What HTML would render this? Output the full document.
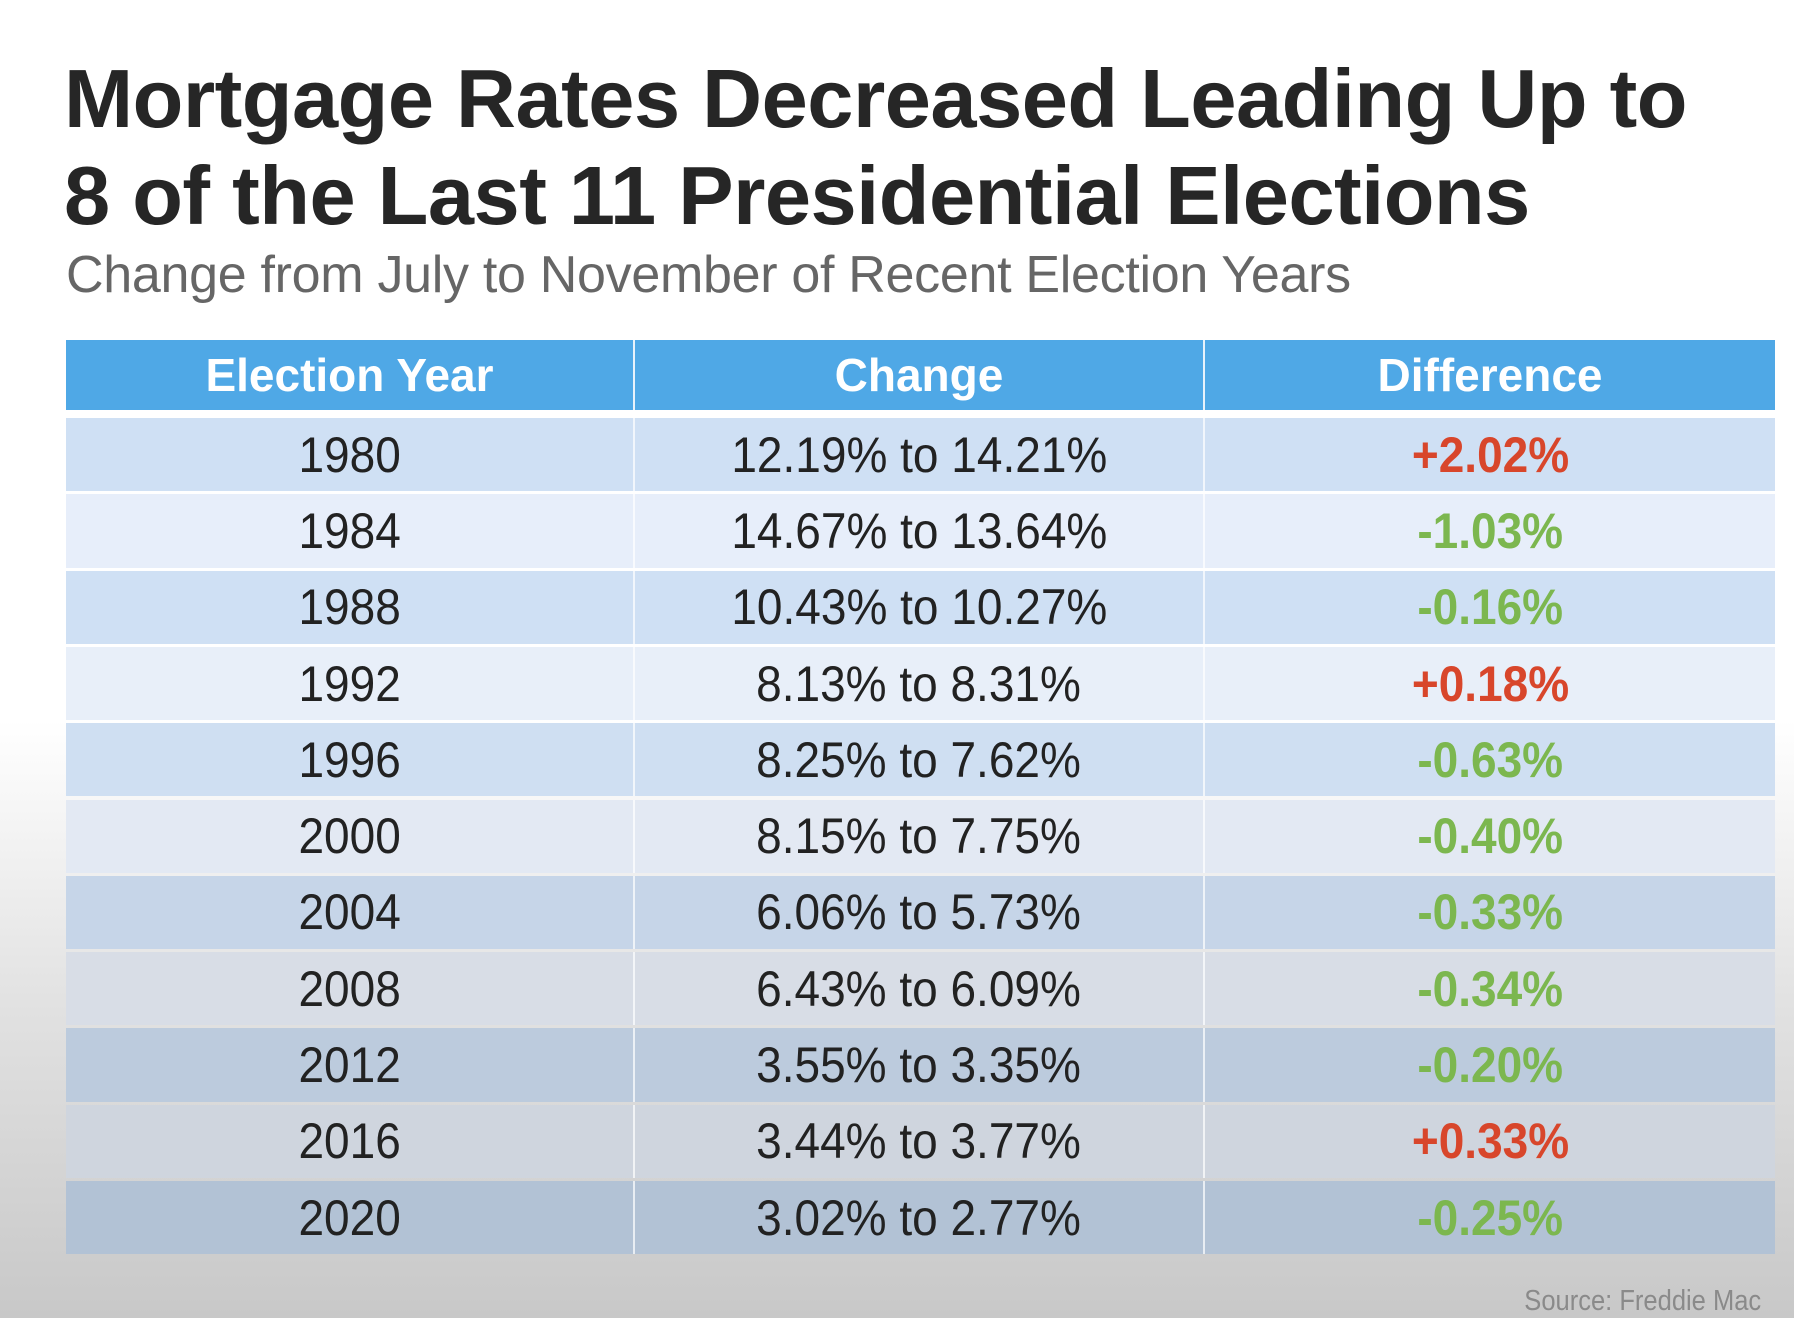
<!DOCTYPE html>
<html><head><meta charset="utf-8">
<style>
html,body{margin:0;padding:0}
body{width:1794px;height:1318px;overflow:hidden;position:relative;font-family:"Liberation Sans",Arial,sans-serif;
background:linear-gradient(to bottom,#ffffff 0px,#ffffff 720px,#e2e2e2 1000px,#c8c8c8 1318px);}
.title{position:absolute;left:64px;top:50px;font-size:83px;font-weight:bold;color:#262626;line-height:97px;letter-spacing:-0.5px;margin:0}
.sub{position:absolute;left:66px;top:245px;font-size:52px;color:#666;margin:0;letter-spacing:-0.3px}
.tbl{position:absolute;left:66px;top:340px;width:1709px}
.row{position:absolute;left:0;width:1709px;display:flex}
.cell{position:relative;display:flex;align-items:center;justify-content:center;box-sizing:border-box}
.cell span{display:inline-block;transform:scaleX(0.92)}
.hdr .cell{background:#4fa8e6;color:#fff;font-weight:bold;font-size:46px;height:70px}
.hdr .cell span{transform:none}
.body .cell{font-size:50px;color:#222}
.src{position:absolute;right:33px;top:1285px;font-size:29px;color:#8a8a8a;transform:scaleX(0.88);transform-origin:right}
</style></head>
<body>
<h1 class="title">Mortgage Rates Decreased Leading Up to<br>8 of the Last 11 Presidential Elections</h1>
<p class="sub">Change from July to November of Recent Election Years</p>
<div class="tbl" id="tbl"></div>
<div class="src">Source: Freddie Mac</div>
<script>
const headers = ["Election Year","Change","Difference"];
const years = ["1980","1984","1988","1992","1996","2000","2004","2008","2012","2016","2020"];
const julyRates = ["12.19","14.67","10.43","8.13","8.25","8.15","6.06","6.43","3.55","3.44","3.02"];
const novRates = ["14.21","13.64","10.27","8.31","7.62","7.75","5.73","6.09","3.35","3.77","2.77"];
const diffs = ["+2.02","-1.03","-0.16","+0.18","-0.63","-0.40","-0.33","-0.34","-0.20","+0.33","-0.25"];
const rowColors = ["#cfe0f4","#e7eefa","#cfe0f4","#e8eff9","#cfdff2","#e3e9f3","#c6d5e8","#d8dde6","#bccbdd","#cfd5de","#b2c2d5"];
const colW = [569,570,570];
const tbl = document.getElementById('tbl');
const hdr = document.createElement('div');
hdr.className='row hdr'; hdr.style.top='0px';


headers.forEach((h,i)=>{
  const c=document.createElement('div');c.className='cell';c.style.width=colW[i]+'px';
  if(i<2)c.style.borderRight='2px solid #e8f2fb';
  c.innerHTML='<span>'+h+'</span>';
  
  
  hdr.appendChild(c);
});
tbl.appendChild(hdr);
const rowTop=78, rowH=76.3;
years.forEach((y,r)=>{
  const row=document.createElement('div');row.className='row body';
  row.style.top=(rowTop+r*rowH)+'px';
  
  
  const vals=[y, julyRates[r]+'% to '+novRates[r]+'%', diffs[r]+'%'];
  vals.forEach((v,i)=>{
    const c=document.createElement('div');c.className='cell';
    c.style.width=colW[i]+'px';c.style.height=(rowH-3)+'px';
    c.style.background=rowColors[r];
    if(i<2)c.style.borderRight='2px solid rgba(255,255,255,0.7)';
    if(i===2){c.style.fontWeight='bold';c.style.color=diffs[r][0]==='+'?'#d8462b':'#7cb74f';}
    c.innerHTML='<span>'+v+'</span>';
    
    
    row.appendChild(c);
  });
  tbl.appendChild(row);
});
</script>
</body></html>
